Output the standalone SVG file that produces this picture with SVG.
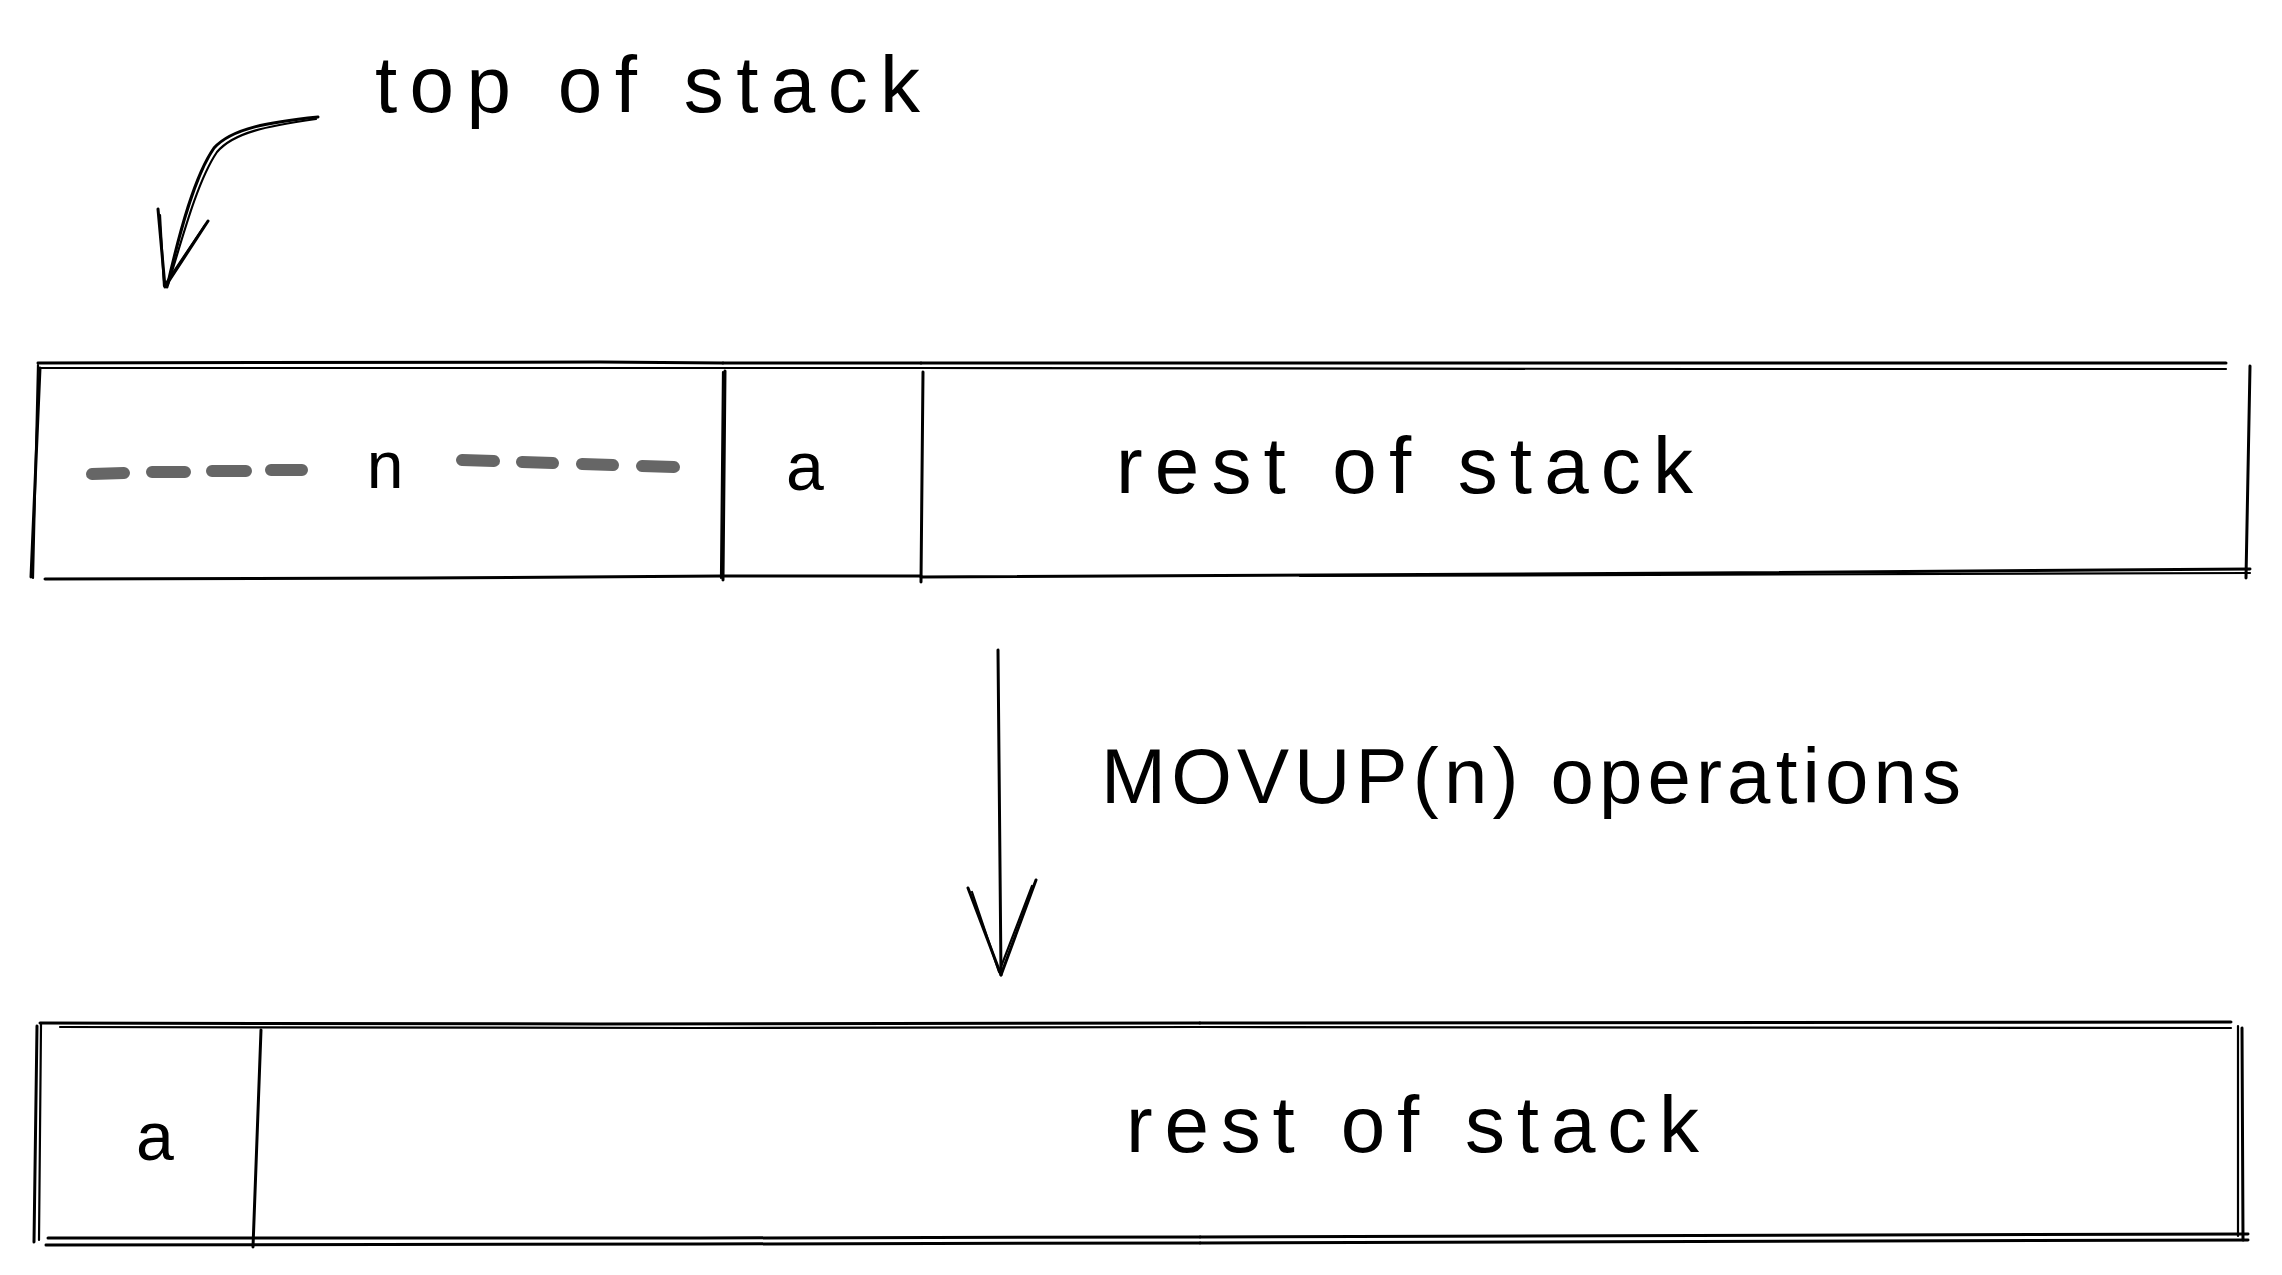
<svg xmlns="http://www.w3.org/2000/svg" width="2282" height="1275" viewBox="0 0 2282 1275">
<defs>
<style>
.ln{fill:none;stroke:#000;stroke-width:3;stroke-linecap:round;stroke-linejoin:round}
.ln2{fill:none;stroke:#000;stroke-width:2.2;stroke-linecap:round;stroke-linejoin:round}
.dash{fill:none;stroke:#666;stroke-width:12;stroke-linecap:round}
.t{font-family:"Liberation Sans","DejaVu Sans",sans-serif;fill:#000}
</style>
</defs>
<rect width="2282" height="1275" fill="#fff"/>

<g id="label-top">
<text class="t" x="375" y="112" font-size="80" textLength="545" lengthAdjust="spacing">top of stack</text>
</g>

<g id="row1-n">
<path class="ln" d="M38 363 L600 362 L723 363"/>
<path class="ln2" d="M40 368 L500 368 L723 368"/>
<path class="ln" d="M40 368 L31 577"/>
<path class="ln2" d="M38 365 L33 578"/>
<path class="ln" d="M45 579 L420 578 L722 576"/>
<path class="dash" d="M92 474 L124 473 M152 472 L185 472 M212 471 L246 471 M271 470 L302 470 M462 460 L494 461 M522 462 L553 463 M582 464 L613 465 M642 466 L674 467"/>
<text class="t" x="385" y="488" font-size="66" text-anchor="middle">n</text>
</g>

<g id="row1-a">
<path class="ln" d="M723 363 L921 363"/>
<path class="ln2" d="M723 368 L921 368"/>
<path class="ln" d="M725 371 L723 580"/>
<path class="ln2" d="M723 372 L721 578"/>
<path class="ln" d="M722 576 L921 576"/>
<text class="t" x="805" y="490" font-size="68" text-anchor="middle">a</text>
</g>

<g id="row1-rest">
<path class="ln" d="M921 363 L1600 363 L2226 363"/>
<path class="ln2" d="M921 368 L1700 369 L2226 369"/>
<path class="ln" d="M923 372 L921 582"/>
<path class="ln" d="M2250 366 L2246 578"/>
<path class="ln" d="M921 577 L1700 573 L2250 569"/>
<path class="ln2" d="M1300 576 L2250 573"/>
<text class="t" x="1116" y="493" font-size="80" textLength="577" lengthAdjust="spacing">rest of stack</text>
</g>

<g id="label-op">
<text class="t" x="1101" y="803" font-size="78" textLength="860" lengthAdjust="spacing">MOVUP(n) operations</text>
</g>

<g id="row2-a">
<path class="ln" d="M40 1023 L600 1024 L1200 1023"/>
<path class="ln2" d="M60 1027 L700 1028 L1200 1027"/>
<path class="ln" d="M37 1026 L34 1242"/>
<path class="ln2" d="M41 1024 L39 1240"/>
<path class="ln" d="M48 1238 L700 1238 L1200 1237"/>
<path class="ln" d="M46 1245 L700 1244 L1200 1243"/>
<path class="ln" d="M261 1030 L253 1247"/>
<text class="t" x="155" y="1160" font-size="68" text-anchor="middle">a</text>
</g>

<g id="row2-rest">
<path class="ln" d="M1200 1023 L2231 1022"/>
<path class="ln2" d="M1200 1027 L2231 1028"/>
<path class="ln" d="M2242 1028 L2243 1240"/>
<path class="ln2" d="M2238 1026 L2238 1236"/>
<path class="ln" d="M1200 1237 L2248 1234"/>
<path class="ln" d="M1200 1243 L2248 1240"/>
<text class="t" x="1126" y="1152" font-size="80" textLength="573" lengthAdjust="spacing">rest of stack</text>
</g>

<g id="connectors">
<path class="ln" d="M318 117 C270 122 232 128 214 148 C195 175 180 230 167 287"/>
<path class="ln2" d="M316 119 C268 126 234 132 217 152 C198 180 184 232 168 285"/>
<path class="ln" d="M158 209 L165 287 L208 221"/>
<path class="ln2" d="M160 215 L164 286 L205 225"/>
<path class="ln" d="M998 650 L1001 975"/>
<path class="ln" d="M968 888 L1001 975 L1036 880"/>
<path class="ln2" d="M972 892 L999 972 L1032 886"/>
</g>
</svg>
